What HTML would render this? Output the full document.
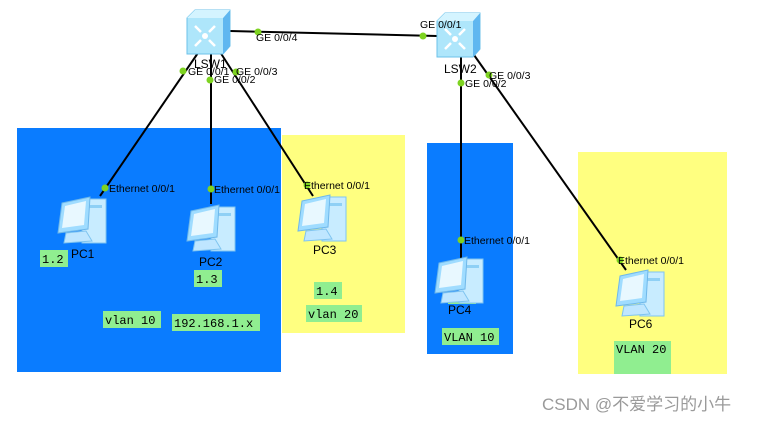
<!DOCTYPE html>
<html><head><meta charset="utf-8"><style>
body{margin:0;background:#fff}
svg{display:block;font-family:"Liberation Sans",Arial,sans-serif}
.m{font-family:"Liberation Mono",monospace;font-size:12px}
.s{font-size:10.5px}
</style></head><body>
<svg width="769" height="421" viewBox="0 0 769 421">
<defs>
<g id="pc">
<rect x="26" y="4" width="24" height="44" fill="#c8ecff" stroke="#7fc4f0"/>
<rect x="30" y="10" width="16" height="3" fill="#8fd0f5"/>
<path d="M6 8 L34 2 L32 34 L2 38 Z" fill="#9fdcff" stroke="#6fb8ea"/>
<path d="M9 11 L30 6 L28 30 L6 33 Z" fill="#e8f8ff"/>
<path d="M10 38 L30 36 L36 46 L8 48 Z" fill="#bfe6ff" stroke="#7fc4f0"/>
</g>
<g id="sw">
<path d="M0 8 L8 0 L43 0 L43 36 L36 44 L0 44 Z" fill="#aee6fb" stroke="#6cc2ea"/>
<path d="M36 8 L43 0 L43 36 L36 44 Z" fill="#5fb7f0"/>
<path d="M0 8 L8 0 L43 0 L36 8 Z" fill="#d4f4ff"/>
<circle cx="18" cy="26" r="3" fill="#fff"/>
<path d="M8 16 l6 6 M28 16 l-6 6 M8 36 l6 -6 M28 36 l-6 -6" stroke="#fff" stroke-width="2.5"/>
</g>
</defs>
<rect x="17" y="128" width="264" height="244" fill="#0a7cff"/>
<rect x="282" y="135" width="123" height="198" fill="#ffff80"/>
<rect x="427" y="143" width="86" height="211" fill="#0a7cff"/>
<rect x="578" y="152" width="149" height="222" fill="#ffff80"/>
<g stroke="#000" stroke-width="2" fill="none">
<line x1="230" y1="31" x2="437" y2="36"/>
<line x1="200" y1="50" x2="100" y2="196"/>
<line x1="211" y1="52" x2="211" y2="204"/>
<line x1="220" y1="52" x2="313" y2="196"/>
<line x1="461" y1="55" x2="461" y2="262"/>
<line x1="474" y1="55" x2="626" y2="270"/>
</g>
<use href="#sw" x="187" y="10"/>
<use href="#sw" x="437" y="13"/>
<rect x="448" y="296" width="28" height="8" fill="#90ee90"/>
<use href="#pc" x="56" y="195"/>
<use href="#pc" x="185" y="203"/>
<use href="#pc" x="296" y="193"/>
<use href="#pc" x="433" y="255"/>
<use href="#pc" x="614" y="268"/>
<g fill="#7ed321">
<circle cx="258" cy="32" r="3.5"/><circle cx="423" cy="36" r="3.5"/>
<circle cx="183" cy="71" r="3.5"/><circle cx="210" cy="80" r="3.5"/><circle cx="236" cy="72" r="3.5"/>
<circle cx="461" cy="83" r="3.5"/><circle cx="489" cy="75" r="3.5"/>
<circle cx="105" cy="188" r="3.5"/><circle cx="211" cy="189" r="3.5"/><circle cx="307" cy="185" r="3.5"/>
<circle cx="461" cy="240" r="3.5"/><circle cx="620" cy="260" r="3.5"/>
</g>
<g class="s" fill="#000">
<text x="256" y="41">GE 0/0/4</text>
<text x="420" y="28">GE 0/0/1</text>
<text x="188" y="75">GE 0/0/1</text>
<text x="214" y="83">GE 0/0/2</text>
<text x="236" y="75">GE 0/0/3</text>
<text x="465" y="87">GE 0/0/2</text>
<text x="489" y="79">GE 0/0/3</text>
<text x="109" y="192">Ethernet 0/0/1</text>
<text x="214" y="193">Ethernet 0/0/1</text>
<text x="304" y="189">Ethernet 0/0/1</text>
<text x="464" y="244">Ethernet 0/0/1</text>
<text x="618" y="264">Ethernet 0/0/1</text>
</g>
<g font-size="12" fill="#000">
<text x="194" y="68">LSW1</text>
<text x="444" y="73">LSW2</text>
<text x="71" y="258">PC1</text>
<text x="199" y="266">PC2</text>
<text x="313" y="254">PC3</text>
<text x="448" y="314">PC4</text>
<text x="629" y="328">PC6</text>
</g>
<g fill="#90ee90">
<rect x="40" y="250" width="28" height="17"/>
<rect x="194" y="270" width="28" height="17"/>
<rect x="314" y="282" width="28" height="17"/>
<rect x="103" y="311" width="58" height="17"/>
<rect x="172" y="314" width="88" height="17"/>
<rect x="306" y="305" width="56" height="17"/>
<rect x="442" y="328" width="57" height="17"/>
<rect x="614" y="341" width="57" height="33"/>
</g>
<g class="m" fill="#000">
<text x="42" y="263">1.2</text>
<text x="196" y="283">1.3</text>
<text x="316" y="295">1.4</text>
<text x="105" y="324">vlan 10</text>
<text x="174" y="327">192.168.1.x</text>
<text x="308" y="318">vlan 20</text>
<text x="444" y="341">VLAN 10</text>
<text x="616" y="353">VLAN 20</text>
</g>
<text x="542" y="410" font-size="17" fill="#9a9a9a" font-family="'Liberation Sans','Noto Sans CJK SC',sans-serif">CSDN @不爱学习的小牛</text>
</svg>
</body></html>
